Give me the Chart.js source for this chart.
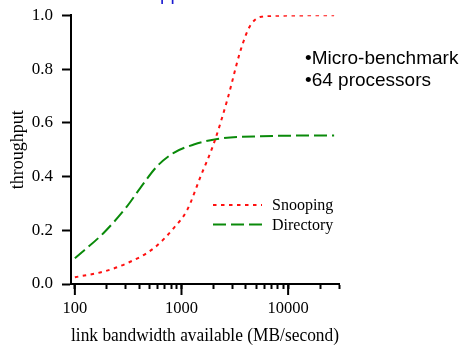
<!DOCTYPE html>
<html>
<head>
<meta charset="utf-8">
<script src="https://cdn.jsdelivr.net/npm/chart.js@4.4.0/dist/chart.umd.min.js"></script>
<style>
html, body { margin: 0; padding: 0; background: #fff; }
#wrap { width: 461px; height: 347px; position: relative; }
</style>
</head>
<body>
<div id="wrap"><canvas id="chart1"></canvas></div>
<script>
// values (bandwidth in MB/s, throughput 0..1)
const snoopBandwidth = [100, 185, 307, 549, 846, 1132, 1510, 2018, 2697, 3604, 4480, 6430, 27000];
const snoopThroughput = [0.025, 0.046, 0.077, 0.133, 0.208, 0.276, 0.40, 0.525, 0.687, 0.873, 0.966, 0.997, 1.0];
const dirBandwidth = [100, 185, 307, 410, 590, 846, 1306, 2172, 5560, 27000];
const dirThroughput = [0.096, 0.189, 0.288, 0.357, 0.438, 0.488, 0.519, 0.54, 0.55, 0.553];

const xTickValues = [100, 200, 300, 400, 500, 600, 700, 800, 900,
    1000, 2000, 3000, 4000, 5000, 6000, 7000, 8000, 9000,
    10000, 20000, 30000];
const xLabelValues = [100, 1000, 10000];
const seriesNames = ["Snooping", "Directory"];
const noteLines = ["\u2022Micro-benchmark", "\u202264 processors"];

const serif = '"Liberation Serif", "Times New Roman", serif';
const sans = '"Liberation Sans", Arial, sans-serif';

function toPoints(xs, ys) {
    return xs.map(function (v, i) { return { x: v, y: ys[i] }; });
}

const extras = {
    id: "extras",
    afterDraw(chart) {
        const ctx = chart.ctx;
        const xs = chart.scales.x;
        ctx.save();
        // longer tick marks at the decades
        ctx.strokeStyle = "#000";
        ctx.lineWidth = 2;
        xLabelValues.forEach(function (v) {
            const px = xs.getPixelForValue(v);
            ctx.beginPath();
            ctx.moveTo(px, xs.top);
            ctx.lineTo(px, xs.top + 11);
            ctx.stroke();
        });

        // legend inside the plot
        ctx.font = "16px " + serif;
        ctx.textBaseline = "middle";
        ctx.fillStyle = "#000";
        chart.data.datasets.forEach(function (ds, i) {
            const y = 205 + i * 19.5;
            ctx.strokeStyle = ds.borderColor;
            ctx.lineWidth = ds.borderWidth;
            ctx.setLineDash(ds.borderDash);
            ctx.beginPath();
            ctx.moveTo(213, y);
            ctx.lineTo(262, y);
            ctx.stroke();
            ctx.setLineDash([]);
            ctx.fillText(seriesNames[i], 272, y + 1);
        });

        // notes on the right
        ctx.font = "19px " + sans;
        ctx.textBaseline = "alphabetic";
        noteLines.forEach(function (t, i) {
            ctx.fillText(t, 305, 63.5 + i * 22.5);
        });

        // clipped blue heading at the very top
        ctx.fillStyle = "#1a1ad0";
        ctx.fillText("pp", 160, -0.5);
        ctx.restore();
    }
};

const ctx = document.getElementById("chart1").getContext("2d");
const myChart = new Chart(ctx, {
    type: "line",
    data: {
        datasets: [
            {
                label: seriesNames[0],
                data: toPoints(snoopBandwidth, snoopThroughput),
                borderColor: "#ff1010",
                borderWidth: 2,
                borderDash: [3.5, 4.5],
                pointRadius: 0,
                cubicInterpolationMode: "monotone",
                fill: false,
            },
            {
                label: seriesNames[1],
                data: toPoints(dirBandwidth, dirThroughput),
                borderColor: "#0a8a0a",
                borderWidth: 2,
                borderDash: [13, 5],
                pointRadius: 0,
                cubicInterpolationMode: "monotone",
                fill: false,
            },
        ],
    },
    options: {
        responsive: true,
        maintainAspectRatio: false,
        animation: false,
        layout: { padding: { left: 0, right: 122, top: 15.3, bottom: 0 } },
        plugins: {
            legend: { display: false },
            tooltip: { enabled: false },
        },
        scales: {
            x: {
                type: "logarithmic",
                min: 92,
                max: 30000,
                afterBuildTicks: function (scale) {
                    scale.ticks = xTickValues.map(function (v) { return { value: v }; });
                },
                afterFit: function (scale) { scale.height = 63; },
                grid: {
                    drawOnChartArea: false,
                    tickLength: 5,
                    tickWidth: 2,
                    tickColor: "#000",
                },
                border: { display: true, color: "#000", width: 2 },
                ticks: {
                    autoSkip: false,
                    maxRotation: 0,
                    padding: 10,
                    color: "#000",
                    font: { family: serif, size: 16.5 },
                    callback: function (v) {
                        return xLabelValues.indexOf(v) >= 0 ? String(v) : "";
                    },
                },
                title: {
                    display: true,
                    text: "link bandwidth available (MB/second)",
                    color: "#000",
                    font: { family: serif, size: 18.5 },
                    padding: { top: 0, bottom: 0 },
                },
            },
            y: {
                min: 0,
                max: 1,
                afterFit: function (scale) {
                    scale.width = 71;
                    scale.paddingTop = 0;
                    scale.paddingBottom = 0;
                },
                grid: {
                    drawOnChartArea: false,
                    tickLength: 9,
                    tickWidth: 2,
                    tickColor: "#000",
                },
                border: { display: true, color: "#000", width: 2 },
                ticks: {
                    stepSize: 0.2,
                    padding: 9,
                    color: "#000",
                    font: { family: serif, size: 17 },
                    callback: function (v) { return v.toFixed(1); },
                },
                title: {
                    display: true,
                    text: "throughput",
                    color: "#000",
                    font: { family: serif, size: 18 },
                    padding: { top: 7, bottom: 0 },
                },
            },
        },
    },
    plugins: [extras],
});
</script>
</body>
</html>
